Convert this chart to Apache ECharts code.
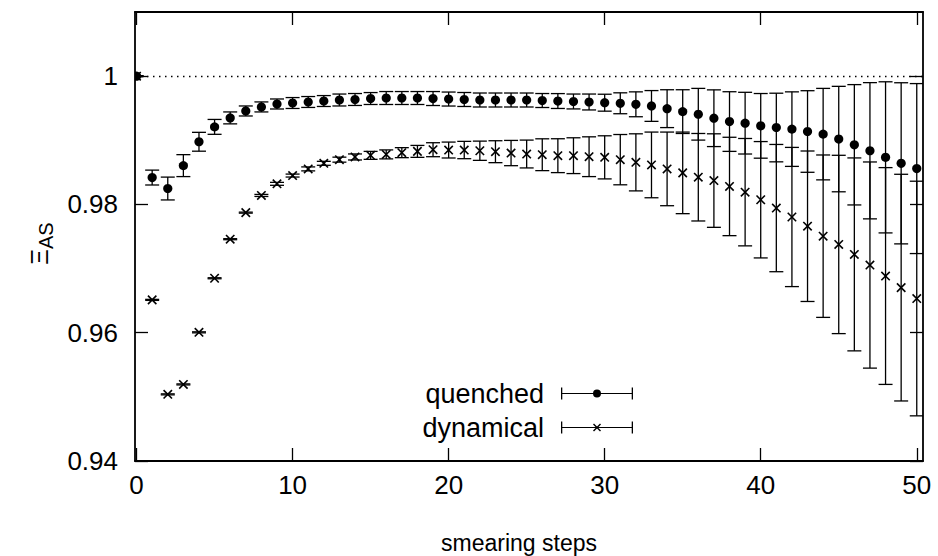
<!DOCTYPE html>
<html>
<head>
<meta charset="utf-8">
<script src="https://cdn.jsdelivr.net/npm/echarts@6/dist/echarts.min.js"></script>
<style>
  html, body { margin: 0; padding: 0; background: #fff; }
  #chart { width: 938px; height: 556px; }
</style>
</head>
<body>
<div id="chart"></div>
<script>
// Number of smearing steps applied
const steps = [0, 1, 2, 3, 4, 5, 6, 7, 8, 9, 10, 11, 12, 13, 14, 15, 16, 17, 18, 19, 20,
  21, 22, 23, 24, 25, 26, 27, 28, 29, 30, 31, 32, 33, 34, 35, 36, 37, 38, 39, 40,
  41, 42, 43, 44, 45, 46, 47, 48, 49, 50];

// Quenched ensemble: mean and statistical error
const quenchedMean = [1.00000, 0.98419, 0.98248, 0.98605, 0.98977, 0.99209, 0.99349, 0.99457, 0.99520, 0.99566,
  0.99581, 0.99597, 0.99612, 0.99628, 0.99636, 0.99651, 0.99659, 0.99659, 0.99659, 0.99651,
  0.99643, 0.99636, 0.99628, 0.99628, 0.99628, 0.99628, 0.99620, 0.99612, 0.99605, 0.99597,
  0.99586, 0.99577, 0.99561, 0.99535, 0.99493, 0.99447, 0.99406, 0.99344, 0.99292, 0.99267,
  0.99225, 0.99199, 0.99174, 0.99137, 0.99096, 0.99019, 0.98930, 0.98837, 0.98734, 0.98641,
  0.98559];
const quenchedErr = [0.00008, 0.00116, 0.00178, 0.00171, 0.00147, 0.00116, 0.00093, 0.00078, 0.00078, 0.00078,
  0.00085, 0.00085, 0.00085, 0.00093, 0.00093, 0.00093, 0.00101, 0.00101, 0.00101, 0.00109,
  0.00109, 0.00109, 0.00109, 0.00109, 0.00109, 0.00109, 0.00109, 0.00116, 0.00116, 0.00124,
  0.00132, 0.00163, 0.00194, 0.00240, 0.00295, 0.00341, 0.00403, 0.00442, 0.00465, 0.00481,
  0.00504, 0.00535, 0.00581, 0.00636, 0.00713, 0.00822, 0.00938, 0.01062, 0.01178, 0.01256,
  0.01325];

// Dynamical ensemble: mean and statistical error
const dynamicalMean = [1.00000, 0.96512, 0.95039, 0.95194, 0.96006, 0.96849, 0.97458, 0.97872, 0.98140, 0.98321,
  0.98450, 0.98554, 0.98641, 0.98698, 0.98740, 0.98765, 0.98780, 0.98807, 0.98827, 0.98853,
  0.98848, 0.98848, 0.98837, 0.98822, 0.98801, 0.98786, 0.98775, 0.98760, 0.98760, 0.98744,
  0.98734, 0.98698, 0.98656, 0.98616, 0.98554, 0.98492, 0.98424, 0.98372, 0.98280, 0.98191,
  0.98073, 0.97943, 0.97804, 0.97660, 0.97505, 0.97376, 0.97221, 0.97055, 0.96884, 0.96703,
  0.96533];
const dynamicalErr = [0.00000, 0.00008, 0.00008, 0.00008, 0.00008, 0.00008, 0.00008, 0.00008, 0.00016, 0.00023,
  0.00023, 0.00031, 0.00031, 0.00039, 0.00047, 0.00062, 0.00070, 0.00078, 0.00093, 0.00109,
  0.00124, 0.00135, 0.00150, 0.00171, 0.00197, 0.00217, 0.00248, 0.00264, 0.00279, 0.00310,
  0.00336, 0.00392, 0.00445, 0.00512, 0.00574, 0.00636, 0.00682, 0.00729, 0.00767, 0.00837,
  0.00907, 0.00992, 0.01085, 0.01173, 0.01266, 0.01390, 0.01504, 0.01607, 0.01690, 0.01767,
  0.01829];

// Tick positions
const xTicks = [0, 10, 20, 30, 40, 50];
const yTicks = [0.94, 0.96, 0.98, 1];
const seriesNames = ['quenched', 'dynamical'];

const FONT = '"Liberation Sans", Arial, Helvetica, sans-serif';
const INK = '#000';

// Legend samples: |--o--| and |--x--| drawn as filled outlines (72 x 12 box)
const legendBar = 'M0,0h1.3v12h-1.3z M0,5.4h72v1.2h-72z M70.7,0h1.3v12h-1.3z';
const legendCircle = legendBar + ' M32,6a4,4 0 1,1 8,0a4,4 0 1,1 -8,0z';
const legendCross = legendBar + ' M32,3L33,2L40,9L39,10z M39,2L40,3L33,10L32,9z';

function toRows(mean, err) {
  return steps.map((s, i) => [s, mean[i], err[i]]);
}

// One point: vertical error bar with caps plus its marker
function errorBarRenderer(marker) {
  return function (params, api) {
    const x = api.value(0), y = api.value(1), e = api.value(2);
    const p = api.coord([x, y]);
    const hi = api.coord([x, y + e])[1];
    const lo = api.coord([x, y - e])[1];
    const cap = 7;
    const st = { stroke: INK, lineWidth: 1.3, fill: null };
    const children = [
      { type: 'line', shape: { x1: p[0], y1: hi, x2: p[0], y2: lo }, style: st },
      { type: 'line', shape: { x1: p[0] - cap, y1: hi, x2: p[0] + cap, y2: hi }, style: st },
      { type: 'line', shape: { x1: p[0] - cap, y1: lo, x2: p[0] + cap, y2: lo }, style: st }
    ];
    if (marker === 'circle') {
      children.push({ type: 'circle', shape: { cx: p[0], cy: p[1], r: 4.6 }, style: { fill: INK } });
    } else {
      const s = 4.2;
      const xs = { stroke: INK, lineWidth: 1.6, fill: null };
      children.push({ type: 'line', shape: { x1: p[0] - s, y1: p[1] - s, x2: p[0] + s, y2: p[1] + s }, style: xs });
      children.push({ type: 'line', shape: { x1: p[0] - s, y1: p[1] + s, x2: p[0] + s, y2: p[1] - s }, style: xs });
    }
    return { type: 'group', children };
  };
}

const axisLineStyle = { color: INK, width: 1.8 };
const tickStyle = { color: INK, width: 1.3 };

function xAxisDef(position, withLabels) {
  return {
    type: 'value', position, min: -0.1, max: 50.4,
    axisLine: { show: true, onZero: false, lineStyle: axisLineStyle },
    axisTick: { show: true, inside: true, length: 13, customValues: xTicks, lineStyle: tickStyle },
    axisLabel: { show: withLabels, customValues: xTicks, color: INK, fontSize: 26, fontFamily: FONT, margin: 11 },
    splitLine: { show: false }
  };
}
function yAxisDef(position, withLabels) {
  return {
    type: 'value', position, min: 0.94, max: 1.01,
    axisLine: { show: true, onZero: false, lineStyle: axisLineStyle },
    axisTick: { show: true, inside: true, length: 13, customValues: yTicks, lineStyle: tickStyle },
    axisLabel: {
      show: withLabels, customValues: yTicks, color: INK, fontSize: 26, fontFamily: FONT, margin: 17,
      formatter: v => String(parseFloat(Number(v).toFixed(2)))
    },
    splitLine: { show: false }
  };
}

const xBottom = xAxisDef('bottom', true);
xBottom.name = 'smearing steps';
xBottom.nameLocation = 'middle';
xBottom.nameGap = 70;
xBottom.nameTextStyle = { color: INK, fontSize: 23, fontFamily: FONT, padding: [0, 20, 0, 0] };

const yLeft = yAxisDef('left', true);
yLeft.name = '{x|Ξ}{s|AS}';
yLeft.nameLocation = 'middle';
yLeft.nameGap = 79;
yLeft.nameRotate = 90;
yLeft.nameTextStyle = {
  color: INK, fontFamily: FONT, padding: [0, 14, 0, 0],
  rich: {
    x: { fontSize: 24, fontFamily: FONT, color: INK },
    s: { fontSize: 20, fontFamily: FONT, color: INK, padding: [14, 0, 0, 0] }
  }
};

const chart = echarts.init(document.getElementById('chart'), null, { renderer: 'svg' });
chart.setOption({
  backgroundColor: '#fff',
  animation: false,
  grid: { left: 135, right: 15, top: 12, bottom: 95, containLabel: false, outerBoundsMode: 'none' },
  xAxis: [xBottom, xAxisDef('top', false)],
  yAxis: [yLeft, yAxisDef('right', false)],
  legend: {
    orient: 'vertical', align: 'right',
    right: 300, top: 375,
    itemWidth: 72, itemHeight: 12, itemGap: 7,
    textStyle: { color: INK, fontSize: 27, fontFamily: FONT, padding: [0, 12, 0, 0] },
    data: [
      { name: seriesNames[0], icon: 'path://' + legendCircle, itemStyle: { color: INK, borderWidth: 0 } },
      { name: seriesNames[1], icon: 'path://' + legendCross, itemStyle: { color: INK, borderWidth: 0 } }
    ]
  },
  series: [
    {
      // reference level at 1
      type: 'line', data: [], silent: true, xAxisIndex: 0, yAxisIndex: 0,
      markLine: {
        silent: true, symbol: ['none', 'none'], label: { show: false },
        lineStyle: { color: INK, width: 1.3, type: [1.5, 4.5] },
        data: [{ yAxis: 1 }]
      }
    },
    {
      name: seriesNames[0], type: 'custom', xAxisIndex: 0, yAxisIndex: 0, clip: true,
      itemStyle: { color: INK },
      renderItem: errorBarRenderer('circle'),
      encode: { x: 0, y: 1 },
      data: toRows(quenchedMean, quenchedErr)
    },
    {
      name: seriesNames[1], type: 'custom', xAxisIndex: 0, yAxisIndex: 0, clip: true,
      itemStyle: { color: INK },
      renderItem: errorBarRenderer('cross'),
      encode: { x: 0, y: 1 },
      data: toRows(dynamicalMean, dynamicalErr)
    }
  ]
});
</script>
</body>
</html>
